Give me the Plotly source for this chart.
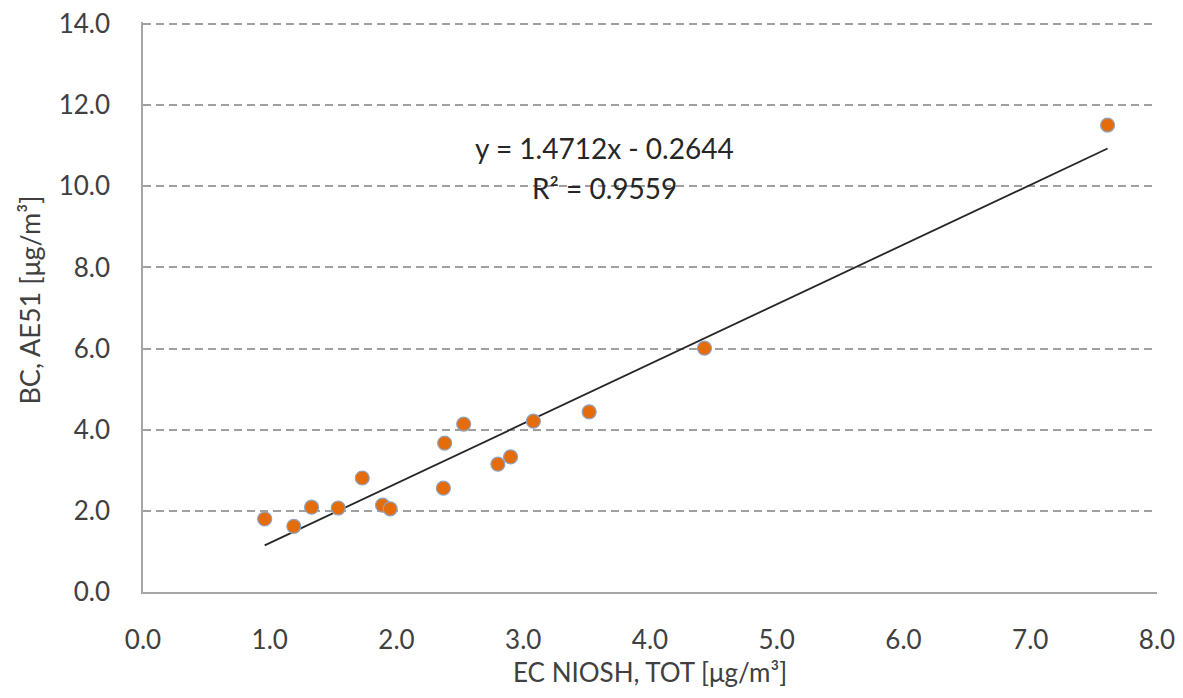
import plotly.graph_objects as go

ec_niosh = [0.96, 1.19, 1.33, 1.54, 1.73, 1.89, 1.95, 2.37, 2.38, 2.53, 2.80, 2.90, 3.08, 3.52, 4.43, 7.61]
bc_ae51 = [1.80, 1.62, 2.09, 2.07, 2.81, 2.14, 2.05, 2.56, 3.67, 4.14, 3.15, 3.33, 4.21, 4.44, 6.01, 11.51]

slope = 1.4712
intercept = -0.2644
r2 = 0.9559

x_ticks = [0, 1, 2, 3, 4, 5, 6, 7, 8]
x_tick_text = ["0.0", "1.0", "2.0", "3.0", "4.0", "5.0", "6.0", "7.0", "8.0"]
y_ticks = [0, 2, 4, 6, 8, 10, 12, 14]
y_tick_text = ["0.0", "2.0", "4.0", "6.0", "8.0", "10.0", "12.0", "14.0"]

x_fit = [min(ec_niosh), max(ec_niosh)]
y_fit = [slope * v + intercept for v in x_fit]

FONT = "Lato"
TXT = "#404040"

fig = go.Figure()
fig.add_trace(go.Scatter(x=x_fit, y=y_fit, mode="lines",
                         line=dict(color="#262626", width=1.8), showlegend=False))
fig.add_trace(go.Scatter(x=ec_niosh, y=bc_ae51, mode="markers",
                         marker=dict(size=14, color="#E46C0A",
                                     line=dict(color="#8EA4C4", width=1.2)),
                         showlegend=False))

fig.add_annotation(x=3.64, y=10.95, xref="x", yref="y",
                   text="y = 1.4712x - 0.2644", showarrow=False,
                   font=dict(family=FONT, size=28, color="#262626"))
fig.add_annotation(x=3.64, y=9.95, xref="x", yref="y",
                   text="R² = 0.9559", showarrow=False,
                   font=dict(family=FONT, size=28, color="#262626"))

# axis titles
fig.add_annotation(x=0.5, y=-0.1404, xref="paper", yref="paper",
                   xanchor="center", yanchor="middle",
                   text="EC NIOSH, TOT [μg/m³]", showarrow=False,
                   font=dict(family=FONT, size=26, color=TXT))
fig.add_annotation(x=-0.112, y=0.512, xref="paper", yref="paper",
                   xanchor="center", yanchor="middle", textangle=-90,
                   text="BC, AE51 [μg/m³]", showarrow=False,
                   font=dict(family=FONT, size=27, color=TXT))

fig.update_layout(
    width=1167, height=682,
    margin=dict(l=135, r=18, t=14, b=98, autoexpand=False),
    paper_bgcolor="white", plot_bgcolor="white",
    xaxis=dict(range=[0, 8], tickvals=x_ticks, ticktext=x_tick_text,
               showgrid=False, zeroline=False, showline=True,
               linecolor="#A6A6A6", linewidth=1.5, automargin=False,
               ticks="", ticklen=0, ticklabelstandoff=24,
               ticklabeloverflow="allow",
               tickfont=dict(family=FONT, size=26, color=TXT)),
    yaxis=dict(range=[0, 14.05], tickvals=y_ticks, ticktext=y_tick_text,
               showgrid=True, gridcolor="#A0A0A0", griddash="8px,5px", gridwidth=1.5,
               zeroline=False, showline=True,
               linecolor="#A6A6A6", linewidth=1.5, automargin=False,
               ticks="", ticklen=0, ticklabelstandoff=26,
               ticklabeloverflow="allow",
               tickfont=dict(family=FONT, size=26, color=TXT)),
)

fig.write_html("out.html")
